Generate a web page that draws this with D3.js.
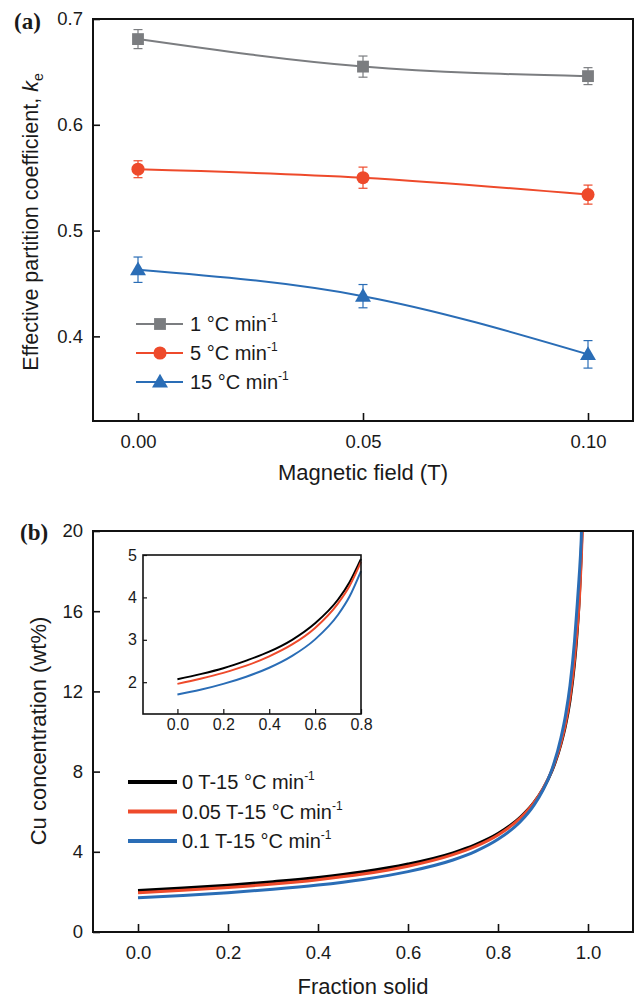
<html>
<head>
<script src="https://d3js.org/d3.v7.min.js"></script>
<style>
  body { margin: 0; background: #fff; }
  text { font-family: "Liberation Sans", Arial, sans-serif; fill: #1a1a1a; }
</style>
</head>
<body>
<div id="svgcontainer"></div>
<script>
// ---- data, panel (a) ----
var fieldT = [0, 0.05, 0.10];
var ke1 = [0.681, 0.655, 0.646];
var err1 = [0.009, 0.010, 0.008];
var ke5 = [0.558, 0.550, 0.534];
var err5 = [0.008, 0.010, 0.009];
var ke15 = [0.463, 0.438, 0.383];
var err15 = [0.012, 0.011, 0.013];
var rateNames = ["1 °C min", "5 °C min", "15 °C min"];
var aYTicks = [0.4, 0.5, 0.6, 0.7];
var aXTicks = [0, 0.05, 0.10];

// ---- data, panel (b) ----
var fracSolid = [0, 0.1, 0.2, 0.3, 0.4, 0.5, 0.6, 0.7, 0.75, 0.8, 0.85, 0.88, 0.9, 0.92, 0.94, 0.95, 0.96, 0.97, 0.975, 0.98, 0.985, 0.99];
var cu0T    = [2.07, 2.19, 2.33, 2.51, 2.72, 3.00, 3.39, 3.95, 4.36, 4.91, 5.73, 6.46, 7.13, 8.04, 9.38, 10.30, 11.55, 13.40, 14.70, 16.40, 18.90, 22.50];
var cu005T  = [1.96, 2.08, 2.22, 2.39, 2.61, 2.89, 3.28, 3.86, 4.27, 4.84, 5.69, 6.45, 7.15, 8.08, 9.45, 10.40, 11.70, 13.60, 14.90, 16.30, 18.60, 21.60];
var cu01T   = [1.71, 1.82, 1.96, 2.13, 2.34, 2.62, 3.01, 3.59, 4.02, 4.62, 5.51, 6.33, 7.08, 8.12, 9.70, 10.80, 12.30, 14.50, 16.00, 17.60, 19.60, 23.50];
var fieldNames = ["0 T-15 °C min", "0.05 T-15 °C min", "0.1 T-15 °C min"];
var bYTicks = [0, 4, 8, 12, 16, 20];
var bXTicks = [0, 0.2, 0.4, 0.6, 0.8, 1.0];
var insetYTicks = [2, 3, 4, 5];
var insetXTicks = [0, 0.2, 0.4, 0.6, 0.8];

var gray = "#7b7d80", red = "#ee4a2b", blue = "#2a6db6";

var width = 635, height = 999;
var svg = d3.select("#svgcontainer").append("svg")
  .attr("width", width).attr("height", height);

// ================= panel (a) =================
var ax = d3.scaleLinear().domain([-0.01, 0.11]).range([93, 633]);
var ay = d3.scaleLinear().domain([0.32, 0.70]).range([421, 19]);

var gA = svg.append("g");

gA.append("g")
  .attr("transform", "translate(93,0)")
  .call(d3.axisLeft(ay).tickValues(aYTicks).tickFormat(d3.format(".1f")).tickSize(-7).tickPadding(10))
  .call(function(g) { g.select(".domain").remove(); });
gA.append("g")
  .attr("transform", "translate(0,421)")
  .call(d3.axisBottom(ax).tickValues(aXTicks).tickFormat(d3.format(".2f")).tickSize(-8).tickPadding(14))
  .call(function(g) { g.select(".domain").remove(); });
gA.selectAll(".tick line").attr("stroke", "#111").attr("stroke-width", 1.6);
gA.selectAll(".tick text").style("font-size", "18.5px").attr("fill", "#1a1a1a");

gA.append("rect")
  .attr("x", 93).attr("y", 19).attr("width", 540).attr("height", 402)
  .attr("fill", "none").attr("stroke", "#111").attr("stroke-width", 2);

var seriesA = [
  { vals: ke1, err: err1, color: gray, shape: d3.symbolSquare, size: 140 },
  { vals: ke5, err: err5, color: red, shape: d3.symbolCircle, size: 135 },
  { vals: ke15, err: err15, color: blue, shape: d3.symbolTriangle, size: 110 }
];

var smooth = d3.line()
  .curve(d3.curveNatural)
  .x(function(d) { return ax(d.x); })
  .y(function(d) { return ay(d.y); });

seriesA.forEach(function(s) {
  var pts = fieldT.map(function(x, i) { return { x: x, y: s.vals[i], e: s.err[i] }; });
  gA.append("path")
    .attr("d", smooth(pts))
    .attr("fill", "none").attr("stroke", s.color).attr("stroke-width", 2);
  // error bars
  pts.forEach(function(p) {
    var cx = ax(p.x);
    gA.append("line").attr("x1", cx).attr("x2", cx)
      .attr("y1", ay(p.y + p.e)).attr("y2", ay(p.y - p.e))
      .attr("stroke", s.color).attr("stroke-width", 1.2);
    [p.y + p.e, p.y - p.e].forEach(function(v) {
      gA.append("line").attr("x1", cx - 4.5).attr("x2", cx + 4.5)
        .attr("y1", ay(v)).attr("y2", ay(v))
        .attr("stroke", s.color).attr("stroke-width", 1.2);
    });
  });
  gA.selectAll(null).data(pts).enter().append("path")
    .attr("transform", function(d) { return "translate(" + ax(d.x) + "," + (ay(d.y) + (s.shape === d3.symbolTriangle ? 1 : 0)) + ")"; })
    .attr("d", d3.symbol().type(s.shape).size(s.size))
    .attr("fill", s.color);
});

// legend (a)
seriesA.forEach(function(s, i) {
  var ly = 324 + i * 29;
  gA.append("line").attr("x1", 136).attr("x2", 183).attr("y1", ly).attr("y2", ly)
    .attr("stroke", s.color).attr("stroke-width", 2);
  gA.append("path").attr("transform", "translate(160," + (ly + (i === 2 ? 1 : 0)) + ")")
    .attr("d", d3.symbol().type(s.shape).size(s.size)).attr("fill", s.color);
  var t = gA.append("text").attr("x", 190).attr("y", ly + 7).style("font-size", "20px").text(rateNames[i]);
  t.append("tspan").attr("dy", -9).style("font-size", "12px").text("-1");
});

// titles (a)
var yt = gA.append("text")
  .attr("transform", "translate(38,222) rotate(-90)")
  .attr("text-anchor", "middle").style("font-size", "21.5px")
  .text("Effective partition coefficient, ");
yt.append("tspan").style("font-style", "italic").text("k");
yt.append("tspan").attr("dy", 5).style("font-size", "14px").text("e");

gA.append("text").attr("x", 363).attr("y", 480).attr("text-anchor", "middle")
  .style("font-size", "22px").text("Magnetic field (T)");

gA.append("text").attr("x", 14).attr("y", 29)
  .style("font-family", "'Liberation Serif', 'Times New Roman', serif")
  .style("font-weight", "bold").style("font-size", "23px").text("(a)");

// ================= panel (b) =================
var bx = d3.scaleLinear().domain([-0.1, 1.1]).range([93, 633]);
var by = d3.scaleLinear().domain([0, 20]).range([932, 531]);

var gB = svg.append("g");

gB.append("defs").append("clipPath").attr("id", "clipB")
  .append("rect").attr("x", 93).attr("y", 531).attr("width", 540).attr("height", 401);

gB.append("g")
  .attr("transform", "translate(93,0)")
  .call(d3.axisLeft(by).tickValues(bYTicks).tickFormat(d3.format("d")).tickSize(-7).tickPadding(10))
  .call(function(g) { g.select(".domain").remove(); });
gB.append("g")
  .attr("transform", "translate(0,932)")
  .call(d3.axisBottom(bx).tickValues(bXTicks).tickFormat(d3.format(".1f")).tickSize(-8).tickPadding(14))
  .call(function(g) { g.select(".domain").remove(); });
gB.selectAll(".tick line").attr("stroke", "#111").attr("stroke-width", 1.6);
gB.selectAll(".tick text").style("font-size", "18.5px").attr("fill", "#1a1a1a");

var seriesB = [
  { vals: cu0T, color: "#000" },
  { vals: cu005T, color: red },
  { vals: cu01T, color: blue }
];

var lineB = d3.line()
  .curve(d3.curveMonotoneX)
  .x(function(d) { return bx(d.x); })
  .y(function(d) { return by(d.y); });

seriesB.forEach(function(s) {
  var pts = fracSolid.map(function(x, i) { return { x: x, y: s.vals[i] }; });
  gB.append("path").attr("clip-path", "url(#clipB)")
    .attr("d", lineB(pts))
    .attr("fill", "none").attr("stroke", s.color).attr("stroke-width", 3);
});

gB.append("rect")
  .attr("x", 93).attr("y", 531).attr("width", 540).attr("height", 401)
  .attr("fill", "none").attr("stroke", "#111").attr("stroke-width", 2);

// legend (b)
seriesB.forEach(function(s, i) {
  var ly = 782 + i * 29.5;
  gB.append("line").attr("x1", 128).attr("x2", 177).attr("y1", ly).attr("y2", ly)
    .attr("stroke", s.color).attr("stroke-width", 4);
  var t = gB.append("text").attr("x", 182).attr("y", ly + 7).style("font-size", "20px").text(fieldNames[i]);
  t.append("tspan").attr("dy", -9).style("font-size", "12px").text("-1");
});

// inset
var ix = d3.scaleLinear().domain([-0.15, 0.8]).range([143, 361]);
var iy = d3.scaleLinear().domain([1.25, 5]).range([714, 555]);
var gI = svg.append("g");
gI.append("rect").attr("x", 143).attr("y", 555).attr("width", 218).attr("height", 159).attr("fill", "#fff");

gI.append("g")
  .attr("transform", "translate(143,0)")
  .call(d3.axisLeft(iy).tickValues(insetYTicks).tickFormat(d3.format("d")).tickSize(-4).tickPadding(6))
  .call(function(g) { g.select(".domain").remove(); });
gI.append("g")
  .attr("transform", "translate(0,714)")
  .call(d3.axisBottom(ix).tickValues(insetXTicks).tickFormat(d3.format(".1f")).tickSize(-5).tickPadding(5))
  .call(function(g) { g.select(".domain").remove(); });
gI.selectAll(".tick line").attr("stroke", "#111").attr("stroke-width", 1.2);
gI.selectAll(".tick text").style("font-size", "16px").attr("fill", "#1a1a1a");

var lineI = d3.line()
  .curve(d3.curveMonotoneX)
  .x(function(d) { return ix(d.x); })
  .y(function(d) { return iy(d.y); });

seriesB.forEach(function(s) {
  var pts = fracSolid.map(function(x, i) { return { x: x, y: s.vals[i] }; })
    .filter(function(d) { return d.x <= 0.8; });
  gI.append("path").attr("d", lineI(pts))
    .attr("fill", "none").attr("stroke", s.color).attr("stroke-width", 2);
});

gI.append("rect").attr("x", 143).attr("y", 555).attr("width", 218).attr("height", 159)
  .attr("fill", "none").attr("stroke", "#111").attr("stroke-width", 1.6);

// titles (b)
gB.append("text")
  .attr("transform", "translate(46,731) rotate(-90)")
  .attr("text-anchor", "middle").style("font-size", "22px")
  .text("Cu concentration (wt%)");
gB.append("text").attr("x", 363).attr("y", 994).attr("text-anchor", "middle")
  .style("font-size", "22px").text("Fraction solid");
gB.append("text").attr("x", 20).attr("y", 540)
  .style("font-family", "'Liberation Serif', 'Times New Roman', serif")
  .style("font-weight", "bold").style("font-size", "23px").text("(b)");
</script>
</body>
</html>
